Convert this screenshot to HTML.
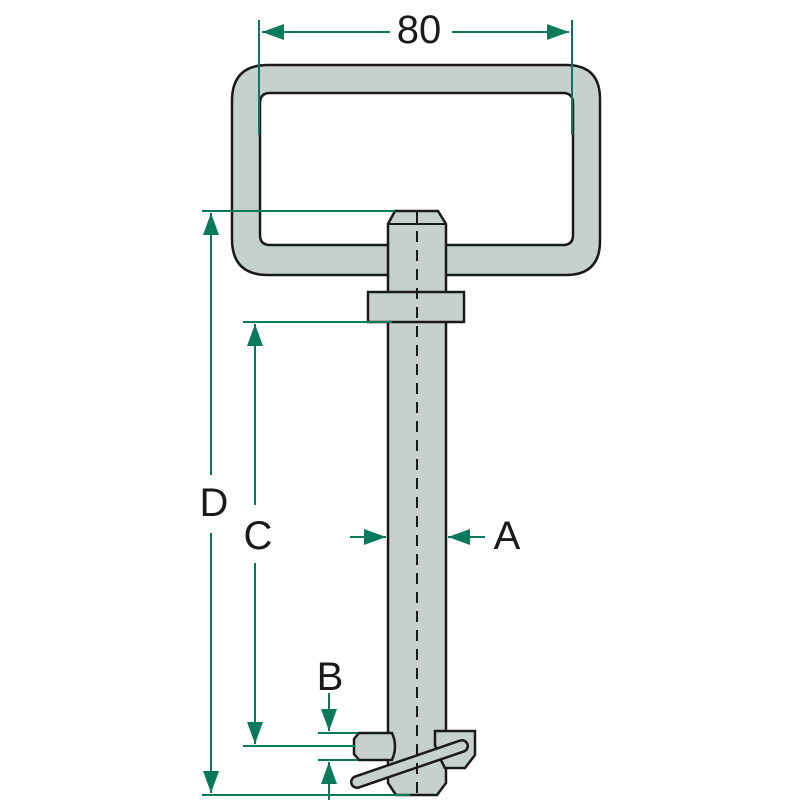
<!DOCTYPE html>
<html><head><style>body{margin:0;background:#fff}svg{display:block}</style></head><body>
<svg width="800" height="800" viewBox="0 0 800 800" xmlns="http://www.w3.org/2000/svg">
<defs>
<marker id="ar" viewBox="0 0 10 10" refX="10" refY="5" markerWidth="22" markerHeight="16" markerUnits="userSpaceOnUse" orient="auto-start-reverse" preserveAspectRatio="none"><path d="M0,0L10,5L0,10z" fill="#0b7a5c"/></marker>
</defs>
<g fill="#c6d1ce" stroke="#1a1a1a" stroke-width="2.5">
<path fill-rule="evenodd" d="M268,65 H566 Q600,65 600,99 V241 Q600,275 566,275 H268 Q232,275 232,239 V101 Q232,65 268,65 Z M270,93 Q260,93 260,103 V235 Q260,245 270,245 H563 Q573,245 573,235 V103 Q573,93 563,93 Z"/>
<path d="M395,211 H438 L446,224 V783 L437,795 H396 L388,783 V224 Z"/>
<rect x="368" y="292" width="96" height="30"/>
<path d="M359,733 H392 Q398,746 392,760 H359 L354,754 V739 Z"/>
<path d="M435,731 H475 V755 L465,768 H445 Q438,755 435,745 Z"/>
<line x1="357" y1="782" x2="462" y2="746" stroke-width="14" stroke-linecap="round"/>
<line x1="357" y1="782" x2="462" y2="746" stroke="#c6d1ce" stroke-width="9" stroke-linecap="round"/>
</g>
<line x1="388" y1="224" x2="446" y2="224" stroke="#1a1a1a" stroke-width="2"/>
<line x1="417" y1="212" x2="417" y2="795" stroke="#1a1a1a" stroke-width="2" stroke-dasharray="11,8"/>
<g stroke="#0b7a5c" stroke-width="2" fill="none">
<line x1="259" y1="20" x2="259" y2="135"/>
<line x1="572" y1="20" x2="572" y2="135"/>
<line x1="390" y1="32" x2="262" y2="32" marker-end="url(#ar)"/>
<line x1="452" y1="32" x2="569" y2="32" marker-end="url(#ar)"/>
<line x1="202" y1="211" x2="395" y2="211"/>
<line x1="202" y1="795" x2="410" y2="795"/>
<line x1="211" y1="475" x2="211" y2="213" marker-end="url(#ar)"/>
<line x1="211" y1="533" x2="211" y2="793" marker-end="url(#ar)"/>
<line x1="243" y1="322" x2="392" y2="322"/>
<line x1="243" y1="746" x2="355" y2="746"/>
<line x1="255" y1="505" x2="255" y2="324" marker-end="url(#ar)"/>
<line x1="255" y1="563" x2="255" y2="744" marker-end="url(#ar)"/>
<line x1="350" y1="537" x2="386" y2="537" marker-end="url(#ar)"/>
<line x1="485" y1="537" x2="448" y2="537" marker-end="url(#ar)"/>
<line x1="318" y1="733" x2="358" y2="733"/>
<line x1="318" y1="760" x2="358" y2="760"/>
<line x1="329" y1="693" x2="329" y2="731" marker-end="url(#ar)"/>
<line x1="329" y1="800" x2="329" y2="762" marker-end="url(#ar)"/>
</g>
<g font-family="Liberation Sans, sans-serif" font-size="40" fill="#1a1a1a" text-anchor="middle">
<text x="419" y="43">80</text>
<text x="214" y="516">D</text>
<text x="258" y="549">C</text>
<text x="507" y="549">A</text>
<text x="330" y="690">B</text>
</g>
</svg>
</body></html>
